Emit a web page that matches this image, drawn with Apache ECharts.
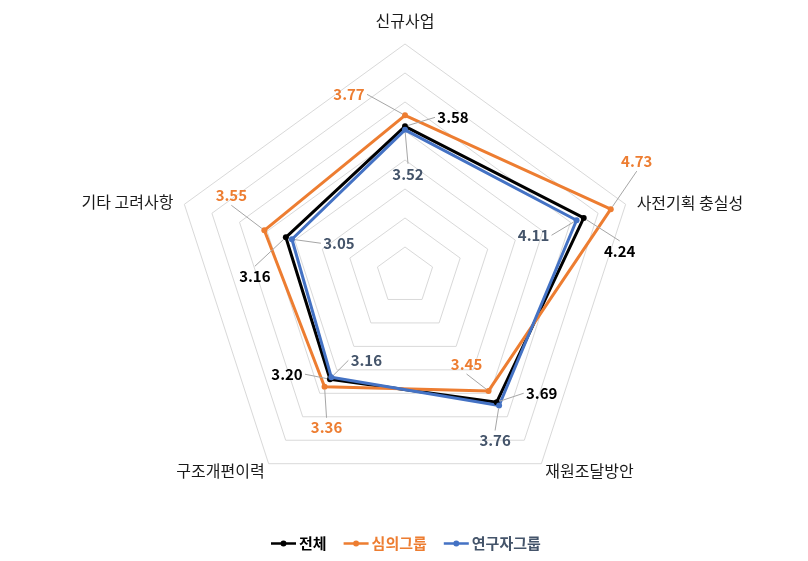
<!DOCTYPE html>
<html>
<head>
<meta charset="utf-8">
<script src="https://cdn.jsdelivr.net/npm/echarts@6/dist/echarts.min.js"></script>
<style>html,body{margin:0;padding:0;background:#fff}#c{width:808px;height:561px}</style>
</head>
<body>
<div id="c"></div>
<script>
// ---- data (categories listed clockwise from the top) ----
var categories = ['신규사업', '사전기획 충실성', '재원조달방안', '구조개편이력', '기타 고려사항'];
var seriesNames = ['전체', '심의그룹', '연구자그룹'];
var totalValues = [3.58, 4.24, 3.69, 3.20, 3.16];
var reviewValues = [3.77, 4.73, 3.45, 3.36, 3.55];
var researcherValues = [3.52, 4.11, 3.76, 3.16, 3.05];
var axisMin = 1, axisMax = 5, axisSplits = 8;

// ---- styles ----
var FONT = '"Noto Sans CJK KR", "Noto Sans", sans-serif';
var colors = ['#000000', '#ED7D31', '#4472C4'];
var labelColors = ['#000000', '#ED7D31', '#44546A'];
var CENTER = [405, 276], RADIUS = 232;
// label offsets (label centre relative to its point), per series, per category
var labelOffsets = [
  [[48, -9], [36, 33], [45, -9], [-43, -5], [-31, 39]],
  [[-56, -21], [26, -48], [-22, -27], [2, 41], [-33, -35]],
  [[3, 44], [-43, 15], [-4, 35], [35, -17], [47, 4]]
];
// axis-name placement relative to the outer vertex
var nameOffsets = [[0, -23, 'center'], [11, -1, 'left'], [4, 7, 'left'], [-4, 7, 'right'], [-11, -2, 'right']];

var allValues = [totalValues, reviewValues, researcherValues];

// ECharts radar places indicators counter-clockwise: reorder so the picture runs clockwise
var n = categories.length;
var radarOrder = categories.map(function (c, k) { return (n - k) % n; });
function toRadar(arr) { return radarOrder.map(function (idx) { return arr[idx]; }); }

var labelRows = [];
allValues.forEach(function (vals, s) {
  vals.forEach(function (v, i) { labelRows.push([v, i, s]); });
});
var nameRows = categories.map(function (c, i) { return [axisMax, i]; });

var chart = echarts.init(document.getElementById('c'), null, {renderer: 'canvas'});

var option = {
  backgroundColor: '#ffffff',
  animation: false,
  textStyle: {fontFamily: FONT},
  legend: {
    left: 266, top: 531,
    itemWidth: 25, itemHeight: 7, itemGap: 17,
    icon: 'path://M0,2.3 H25 V4.7 H0 Z M9.5,3.5 A3,3 0 1,1 15.5,3.5 A3,3 0 1,1 9.5,3.5 Z',
    textStyle: {fontSize: 15, fontFamily: FONT, fontWeight: 'bold', padding: [0, 0, 0, -2]},
    data: seriesNames.map(function (nm, s) {
      return {name: nm, textStyle: {color: labelColors[s]}};
    })
  },
  radar: {
    center: CENTER, radius: RADIUS,
    shape: 'polygon',
    startAngle: 90,
    splitNumber: axisSplits,
    indicator: toRadar(categories).map(function (c) { return {name: c, min: axisMin, max: axisMax}; }),
    axisName: {show: false},
    axisLine: {show: false},
    axisTick: {show: false},
    axisLabel: {show: false},
    splitArea: {show: false},
    splitLine: {lineStyle: {color: '#D9D9D9', width: 1}}
  },
  polar: {center: CENTER, radius: RADIUS},
  angleAxis: {type: 'value', min: 0, max: categories.length, startAngle: 90, clockwise: true, show: false},
  radiusAxis: {type: 'value', min: axisMin, max: axisMax, show: false},
  series: [
    {
      type: 'radar',
      symbol: 'circle', symbolSize: 6,
      z: 2,
      data: allValues.map(function (vals, s) {
        return {
          name: seriesNames[s], value: toRadar(vals),
          lineStyle: {color: colors[s], width: 3},
          itemStyle: {color: colors[s]}
        };
      })
    },
    {
      type: 'custom', coordinateSystem: 'polar', silent: true, z: 5,
      encode: {radius: 0, angle: 1},
      data: labelRows,
      renderItem: function (params, api) {
        var v = api.value(0), i = api.value(1), s = api.value(2);
        var p = api.coord([v, i]);
        var off = labelOffsets[s][i];
        var cx = p[0] + off[0], cy = p[1] + off[1];
        var dx = p[0] - cx, dy = p[1] - cy;
        var hw = 16, hh = 8, a;
        if (Math.abs(dx) > 1.3 * Math.abs(dy)) a = [cx + Math.sign(dx) * (hw + 2), cy];
        else a = [cx, cy + Math.sign(dy) * (hh + 2)];
        var lx = p[0] - a[0], ly = p[1] - a[1], len = Math.sqrt(lx * lx + ly * ly) || 1;
        var e = [p[0] - lx / len * 3, p[1] - ly / len * 3];
        return {
          type: 'group',
          children: [
            {type: 'polyline', shape: {points: [a, e]}, style: {stroke: '#A6A6A6', lineWidth: 1, fill: null}},
            {type: 'text', x: cx, y: cy, style: {
              text: v.toFixed(2), fill: labelColors[s], font: 'bold 15px ' + FONT,
              textAlign: 'center', textVerticalAlign: 'middle'
            }}
          ]
        };
      }
    },
    {
      type: 'custom', coordinateSystem: 'polar', silent: true, z: 5,
      encode: {radius: 0, angle: 1},
      data: nameRows,
      renderItem: function (params, api) {
        var i = api.value(1);
        var p = api.coord([api.value(0), i]);
        var o = nameOffsets[i];
        return {type: 'text', x: p[0] + o[0], y: p[1] + o[1], style: {
          text: categories[i], fill: '#1a1a1a', font: '16px ' + FONT,
          textAlign: o[2], textVerticalAlign: 'middle'
        }};
      }
    }
  ]
};
chart.setOption(option);
</script>
</body>
</html>
